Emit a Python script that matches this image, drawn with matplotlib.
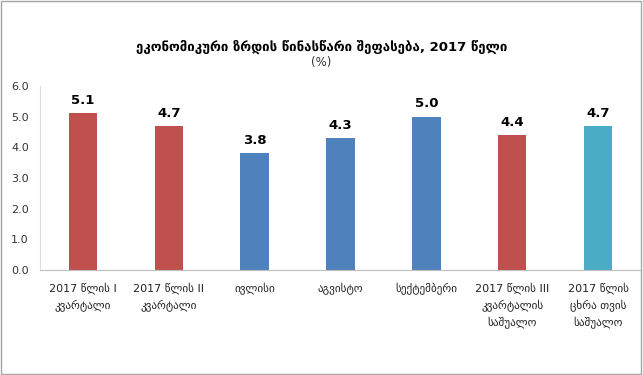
import numpy as np
import matplotlib.pyplot as plt
from matplotlib.patches import Rectangle

plt.rcParams['font.family'] = ['DejaVu Sans']

cats = ['2017 წლის I\nკვარტალი', '2017 წლის II\nკვარტალი', 'ივლისი', 'აგვისტო',
        'სექტემბერი', '2017 წლის III\nკვარტალის\nსაშუალო', '2017 წლის\nცხრა თვის\nსაშუალო']
vals = [5.1, 4.7, 3.8, 4.3, 5.0, 4.4, 4.7]
cols = ['#C0504D', '#C0504D', '#4F81BD', '#4F81BD', '#4F81BD', '#C0504D', '#4BACC6']

fig = plt.figure(figsize=(6.43, 3.75), dpi=100)
ax = fig.add_axes([0.062, 0.28, 0.935, 0.491])

x = np.arange(len(vals))
ax.bar(x, vals, width=0.33, color=cols)
for xi, v in zip(x, vals):
    ax.text(xi, v + 0.2, f'{v:.1f}', ha='center', va='bottom', fontsize=9.5, fontweight='bold')

ax.set_xlim(-0.5, len(vals) - 0.5)
ax.set_ylim(0, 6)
ax.set_yticks(np.arange(0, 6.1, 1.0))
ax.set_yticklabels([f'{t:.1f}' for t in np.arange(0, 6.1, 1.0)], fontsize=8, color='#333333')
ax.set_xticks(x)
ax.set_xticklabels(cats, fontsize=8, color='#222222', linespacing=1.55, va='top')
ax.tick_params(axis='x', length=0, pad=9)
ax.tick_params(axis='y', length=0, pad=8)
for s in ['top', 'right']:
    ax.spines[s].set_visible(False)
ax.spines['left'].set_color('#D9DEE6')
ax.spines['bottom'].set_color('#BFBFBF')

fig.text(0.5, 0.875, 'ეკონომიკური ზრდის წინასწარი შეფასება, 2017 წელი', ha='center', va='center',
         fontsize=9.5, fontweight='bold')
fig.text(0.5, 0.834, '(%)', ha='center', va='center', fontsize=8.5, color='#333333')

fig.patches.append(Rectangle((0.002, 0.003), 0.995, 0.994, transform=fig.transFigure,
                             fill=False, edgecolor='#A6A6A6', linewidth=1))

fig.savefig('out.png', dpi=100)
